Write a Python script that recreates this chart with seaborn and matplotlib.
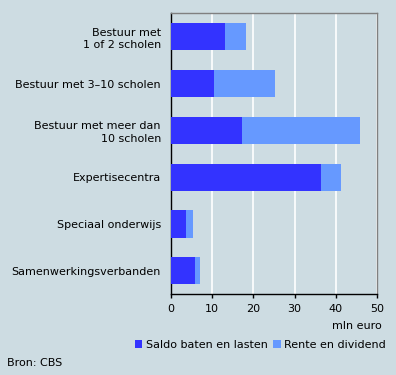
import pandas as pd
import matplotlib.pyplot as plt
import seaborn as sns
from matplotlib.patches import Patch

# ---------------------------------------------------------------------------
# Data (mln euro)
# ---------------------------------------------------------------------------
categories = [
    'Bestuur met\n1 of 2 scholen',
    'Bestuur met 3\u201310 scholen',
    'Bestuur met meer dan\n10 scholen',
    'Expertisecentra',
    'Speciaal onderwijs',
    'Samenwerkingsverbanden',
]
saldo = [13.1, 10.5, 17.3, 36.4, 3.7, 5.9]
rente = [5.1, 14.8, 28.5, 4.8, 1.7, 1.2]
x_ticks = [0, 10, 20, 30, 40, 50]

BG = '#cddce2'
DARK = '#3333ff'
LIGHT = '#6699ff'

df = pd.DataFrame({'cat': categories, 'saldo': saldo, 'rente': rente})
df['totaal'] = df['saldo'] + df['rente']

sns.set_style('white')
plt.rcParams['font.family'] = ['DejaVu Sans']
plt.rcParams['text.color'] = 'black'
plt.rcParams['xtick.color'] = 'black'
plt.rcParams['ytick.color'] = 'black'

fig = plt.figure(figsize=(3.96, 3.75), dpi=100, facecolor=BG)
ax = fig.add_axes([170.7 / 396, 1 - 294.3 / 375, 206.6 / 396, 281 / 375])
ax.set_facecolor(BG)

# stacked: draw totals first (light), then saldo on top (dark)
sns.barplot(data=df, x='totaal', y='cat', color=LIGHT, width=0.58,
            saturation=1, linewidth=0, ax=ax, zorder=3)
sns.barplot(data=df, x='saldo', y='cat', color=DARK, width=0.58,
            saturation=1, linewidth=0, ax=ax, zorder=4)

ax.set_xlim(0, 50)
ax.set_ylim(5.5, -0.5)
ax.set_xticks(x_ticks)
ax.xaxis.grid(True, color='white', linewidth=1.2, zorder=1)
ax.set_axisbelow(True)
ax.set_xlabel('')
ax.set_ylabel('')

for side in ['left', 'bottom']:
    ax.spines[side].set_color('black')
    ax.spines[side].set_linewidth(1.0)
for side in ['top', 'right']:
    ax.spines[side].set_visible(True)
    ax.spines[side].set_color('#808080')
    ax.spines[side].set_linewidth(1.0)

ax.tick_params(axis='y', length=0, pad=7, labelsize=8, labelcolor='black')
ax.tick_params(axis='x', length=3, width=1, color='black', direction='out',
               pad=4, labelsize=8, labelcolor='black', bottom=True)
for lbl in ax.get_yticklabels():
    lbl.set_linespacing(1.3)

fig.text(382 / 396, 1 - 326 / 375, 'mln euro', ha='right', va='center',
         fontsize=8)

handles = [Patch(facecolor=DARK, edgecolor='none'),
           Patch(facecolor=LIGHT, edgecolor='none')]
fig.legend(handles, ['Saldo baten en lasten', 'Rente en dividend'],
           loc='center right', bbox_to_anchor=(386 / 396, 1 - 345 / 375),
           ncol=2, frameon=False, fontsize=8, handlelength=0.7,
           handleheight=0.7, handletextpad=0.3, columnspacing=0.5,
           borderaxespad=0, borderpad=0)

fig.text(7 / 396, 1 - 363 / 375, 'Bron: CBS', ha='left', va='center',
         fontsize=8)

fig.savefig('out.png', dpi=100, facecolor=BG)
